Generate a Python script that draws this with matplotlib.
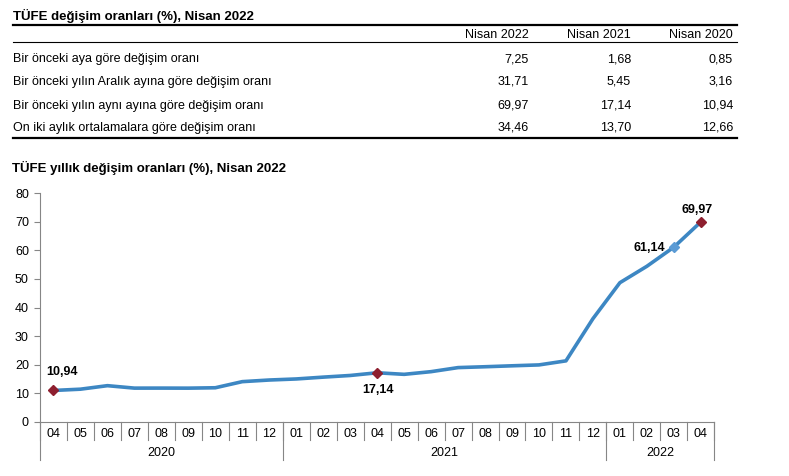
import matplotlib
matplotlib.use("Agg")
import matplotlib.pyplot as plt
from matplotlib.lines import Line2D

plt.rcParams['font.family'] = ['Liberation Sans', 'DejaVu Sans']

# ---- table data ----
table_title = "TÜFE değişim oranları (%), Nisan 2022"
col_headers = ["Nisan 2022", "Nisan 2021", "Nisan 2020"]
row_labels = [
    "Bir önceki aya göre değişim oranı",
    "Bir önceki yılın Aralık ayına göre değişim oranı",
    "Bir önceki yılın aynı ayına göre değişim oranı",
    "On iki aylık ortalamalara göre değişim oranı",
]
col_2022 = ["7,25", "31,71", "69,97", "34,46"]
col_2021 = ["1,68", "5,45", "17,14", "13,70"]
col_2020 = ["0,85", "3,16", "10,94", "12,66"]

# ---- chart data ----
chart_title = "TÜFE yıllık değişim oranları (%), Nisan 2022"
months = ["04", "05", "06", "07", "08", "09", "10", "11", "12",
          "01", "02", "03", "04", "05", "06", "07", "08", "09", "10", "11", "12",
          "01", "02", "03", "04"]
years = ["2020", "2021", "2022"]
year_counts = [9, 12, 4]
values = [10.94, 11.39, 12.62, 11.76, 11.77, 11.75, 11.89, 14.03, 14.60,
          14.97, 15.61, 16.19, 17.14, 16.59, 17.53, 18.95, 19.25, 19.58, 19.89, 21.31, 36.08,
          48.69, 54.44, 61.14, 69.97]
yticks = [0, 10, 20, 30, 40, 50, 60, 70, 80]

W, H = 789, 476
fig = plt.figure(figsize=(W / 100, H / 100), dpi=100)

def fx(px):
    return px / W

def fy(py):
    return 1 - py / H

FS = 9
FT = 9.5
# ---- table ----
fig.text(fx(13), fy(16), table_title, fontsize=FT, fontweight='bold', va='center', ha='left')
fig.add_artist(Line2D([fx(13), fx(737)], [fy(25), fy(25)], color='black', lw=1.6))
fig.add_artist(Line2D([fx(13), fx(737)], [fy(42), fy(42)], color='black', lw=0.8))
fig.add_artist(Line2D([fx(13), fx(737)], [fy(137.5), fy(137.5)], color='black', lw=1.6))
col_x = [529, 631, 733]
for cx, h in zip(col_x, col_headers):
    fig.text(fx(cx), fy(34.5), h, fontsize=FS, ha='right', va='center')
row_y = [59, 82, 106, 128]
for ry, lab, a, b, c in zip(row_y, row_labels, col_2022, col_2021, col_2020):
    fig.text(fx(13), fy(ry), lab, fontsize=FS, ha='left', va='center')
    for cx, v in zip(col_x, (a, b, c)):
        fig.text(fx(cx), fy(ry), v, fontsize=FS, ha='right', va='center')

# ---- chart ----
fig.text(fx(12), fy(168), chart_title, fontsize=FT, fontweight='bold', va='center', ha='left')

ax_l, ax_r, ax_t, ax_b = 40, 714.3, 193.3, 421.7
ax = fig.add_axes([fx(ax_l), fy(ax_b), (ax_r - ax_l) / W, (ax_b - ax_t) / H])
n = len(values)
x = list(range(n))
ax.plot(x, values, color='#3D87C3', lw=2.6, solid_joinstyle='round', zorder=2)
red_idx = [0, 12, 24]
ax.plot([x[i] for i in red_idx], [values[i] for i in red_idx], linestyle='none',
        marker='D', ms=5, color='#8E1F2F', zorder=3)
ax.plot([x[23]], [values[23]], linestyle='none', marker='D', ms=5, color='#5B9BD5', zorder=3)

def fmt(v):
    return f"{v:.2f}".replace('.', ',')

ax.annotate(fmt(values[0]), (x[0], values[0]), xytext=(9, 18), textcoords='offset pixels',
            ha='center', va='center', fontsize=FS, fontweight='bold')
ax.annotate(fmt(values[12]), (x[12], values[12]), xytext=(1, -17), textcoords='offset pixels',
            ha='center', va='center', fontsize=FS, fontweight='bold')
ax.annotate(fmt(values[23]), (x[23], values[23]), xytext=(-9, -1), textcoords='offset pixels',
            ha='right', va='center', fontsize=FS, fontweight='bold')
ax.annotate(fmt(values[24]), (x[24], values[24]), xytext=(-4, 12), textcoords='offset pixels',
            ha='center', va='center', fontsize=FS, fontweight='bold')

ax.set_xlim(-0.5, n - 0.5)
ax.set_ylim(0, 80)
ax.set_yticks(yticks)
ax.set_yticklabels([str(t) for t in yticks], fontsize=FS)
ax.tick_params(axis='y', direction='out', length=4, color='#868686', pad=4)
for s in ['top', 'right']:
    ax.spines[s].set_visible(False)
ax.spines['left'].set_color('#868686')
ax.spines['bottom'].set_color('#868686')
ax.set_xticks([])

axh = ax_b - ax_t
tr = ax.get_xaxis_transform()
gray = '#868686'
# month separators and labels
for i in range(n + 1):
    ax.plot([i - 0.5, i - 0.5], [0, -18.3 / axh], color=gray, lw=0.8, transform=tr, clip_on=False)
for i, m in enumerate(months):
    ax.text(i, -12.5 / axh, m, transform=tr, ha='center', va='center', fontsize=FS)
# year separators and labels
start = 0
bounds = [0]
for c in year_counts:
    start += c
    bounds.append(start)
for b in bounds:
    ax.plot([b - 0.5, b - 0.5], [0, -38.5 / axh], color=gray, lw=0.8, transform=tr, clip_on=False)
for yname, s0, s1 in zip(years, bounds[:-1], bounds[1:]):
    ax.text((s0 + s1 - 1) / 2, -31.5 / axh, yname, transform=tr, ha='center', va='center', fontsize=FS)

fig.savefig("out.png", dpi=100)
